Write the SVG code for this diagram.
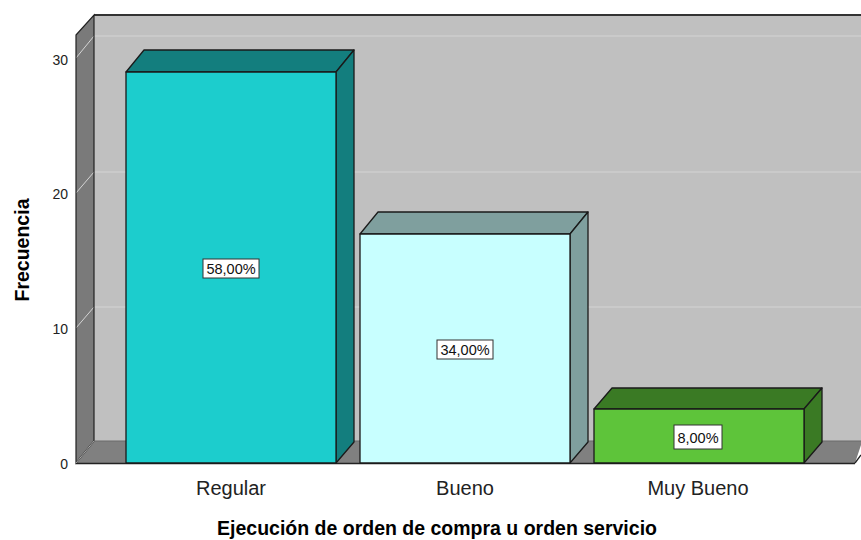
<svg xmlns="http://www.w3.org/2000/svg" width="861" height="540" viewBox="0 0 861 540">
<style>
.edge{stroke:#1a1a1a;stroke-width:1.3;stroke-linejoin:round}
.grid{stroke:#d4d4d4;stroke-width:1;fill:none}
.tick{font-family:"Liberation Sans",Arial,sans-serif;font-size:14px;fill:#222;text-anchor:end}
.cat{font-family:"Liberation Sans",Arial,sans-serif;font-size:20px;fill:#222;text-anchor:middle}
.title{font-family:"Liberation Sans",Arial,sans-serif;font-size:19.5px;font-weight:bold;fill:#000;text-anchor:middle}
.lblbox{fill:#fff;stroke:#333;stroke-width:1}
.lbl{font-family:"Liberation Sans",Arial,sans-serif;font-size:14.5px;fill:#111;text-anchor:middle}
</style>
<rect width="861" height="540" fill="#fff"/>
<g id="frame">
  <rect x="94" y="15" width="767" height="426" fill="#c0c0c0"/>
  <polygon points="76,35 94,15 94,441 76,463" fill="#7a7a7a"/>
  <polygon points="76,463 94,441 861,441 861,445 855,463" fill="#808080"/>
  <line x1="94" y1="15" x2="861" y2="15" stroke="#333" stroke-width="2"/>
  <path class="grid" d="M76,328 L94,307 L861,307 M76,193 L94,172 L861,172 M76,58 L94,36 L861,36"/>
  <path d="M76,35 L94,15 L94,441 L76,463 Z" fill="none" stroke="#222" stroke-width="1.2"/>
  <line x1="76" y1="463.5" x2="855" y2="463.5" stroke="#222" stroke-width="1.3"/>
  <line x1="94" y1="441" x2="861" y2="441" stroke="#6a6a6a" stroke-width="1"/>
  <line x1="76" y1="463" x2="94" y2="441" stroke="#aaa" stroke-width="1"/>
  <line x1="855" y1="463" x2="861" y2="455" stroke="#222" stroke-width="1.3"/>
</g>
<g id="axis">
  <text class="tick" x="68" y="469">0</text>
  <text class="tick" x="68" y="334">10</text>
  <text class="tick" x="68" y="199">20</text>
  <text class="tick" x="68" y="65">30</text>
  <text class="title" transform="translate(29,250) rotate(-90)">Frecuencia</text>
  <text class="title" x="437" y="535">Ejecución de orden de compra u orden servicio</text>
</g>
<g id="bar-regular">
  <polygon class="edge" points="126,72 144,50 354,50 336,72" fill="#137e7e"/>
  <polygon class="edge" points="336,72 354,50 354,442 336,463" fill="#137e7e"/>
  <rect class="edge" x="126" y="72" width="210" height="391" fill="#1ccdcd"/>
  <rect class="lblbox" x="203" y="259" width="56" height="19"/>
  <text class="lbl" x="231" y="274">58,00%</text>
  <text class="cat" x="231" y="495">Regular</text>
</g>
<g id="bar-bueno">
  <polygon class="edge" points="360,234 378,212 588,212 570,234" fill="#7f9f9e"/>
  <polygon class="edge" points="570,234 588,212 588,442 570,463" fill="#7f9f9e"/>
  <rect class="edge" x="360" y="234" width="210" height="229" fill="#c8ffff"/>
  <rect class="lblbox" x="437" y="340" width="56" height="19"/>
  <text class="lbl" x="465" y="355">34,00%</text>
  <text class="cat" x="465" y="495">Bueno</text>
</g>
<g id="bar-muy-bueno">
  <polygon class="edge" points="594,409 612,388 822,388 804,409" fill="#3a7a24"/>
  <polygon class="edge" points="804,409 822,388 822,442 804,463" fill="#3a7a24"/>
  <rect class="edge" x="594" y="409" width="210" height="54" fill="#5ec43a"/>
  <rect class="lblbox" x="674" y="425" width="48" height="24"/>
  <text class="lbl" x="698" y="443">8,00%</text>
  <text class="cat" x="698" y="495">Muy Bueno</text>
</g>
</svg>
